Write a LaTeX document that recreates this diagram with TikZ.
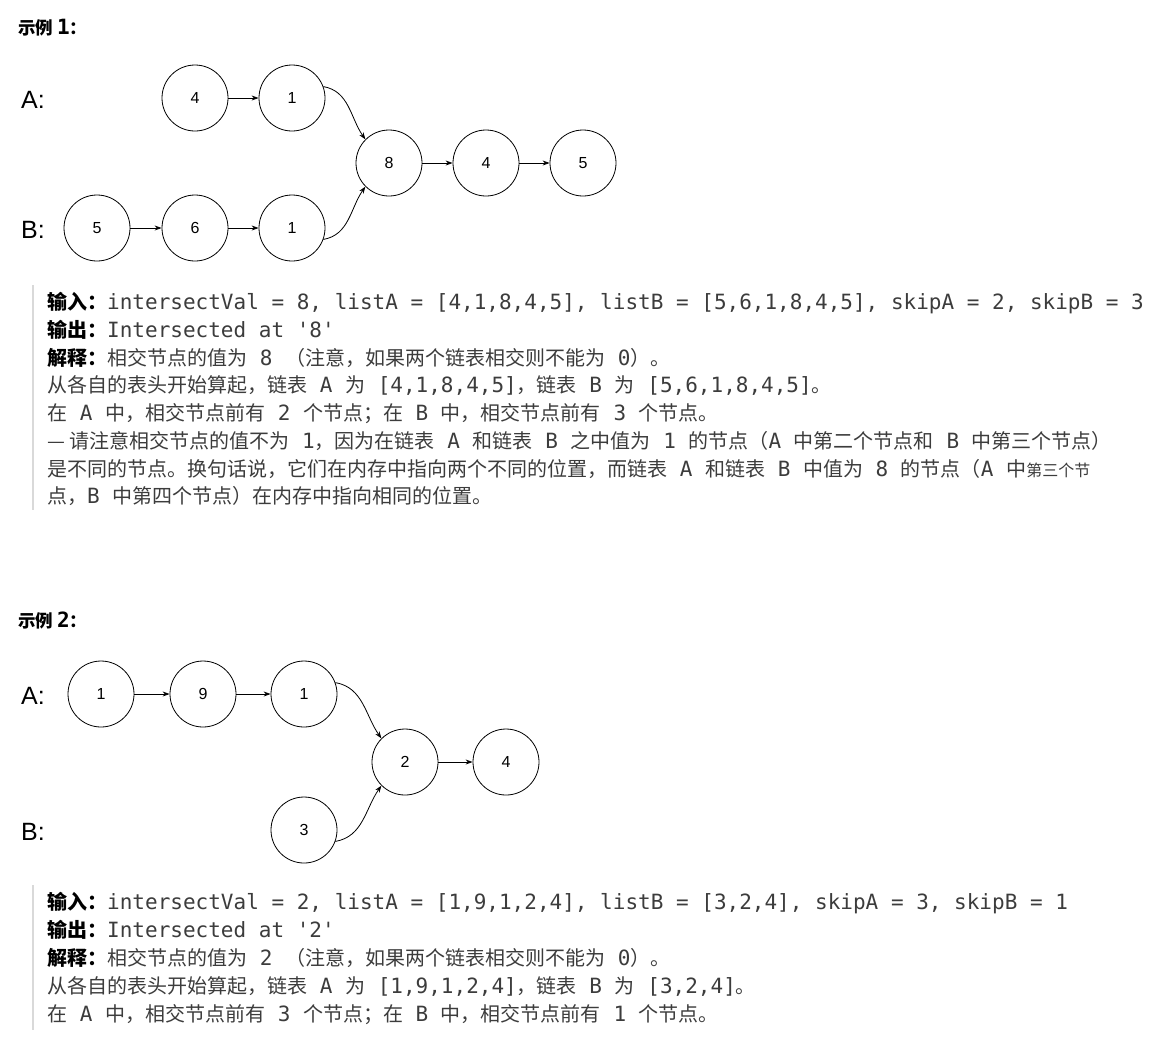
\documentclass[tikz,border=0pt]{standalone}
\usepackage{fontspec}
\setmainfont{Noto Sans CJK SC}
\setmonofont{DejaVu Sans Mono}
\newfontfamily\lsans{Liberation Sans}
\usetikzlibrary{arrows.meta}
\definecolor{txt}{HTML}{3C3C3C}
\newcommand{\mm}[1]{{\ttfamily\fontsize{21}{24}\selectfont #1}}
\newcommand{\bb}[1]{{\bfseries\color{black}#1}}
\tikzset{
 nd/.style={circle,draw,line width=0.8pt,minimum size=66pt,inner sep=0pt,font=\lsans\fontsize{16}{18}\selectfont},
 ar/.style={-{Stealth[length=7pt,width=5pt]},line width=0.8pt},
 lab/.style={font=\lsans\fontsize{25}{28}\selectfont},
 tl/.style={anchor=base west,inner sep=0pt,text=txt,font=\fontsize{20}{22}\selectfont},
 hd/.style={anchor=base west,inner sep=0pt,font=\bfseries\fontsize{17.5}{20}\selectfont},
 bar/.style={draw=black!15,line width=2pt}
}
\begin{document}
\begin{tikzpicture}[x=1pt,y=-1pt]
\useasboundingbox (0,0) rectangle (1156,1050);
\node[hd] (h1) at (18,34) {示例 \mm{\bfseries 1}：};
\node[lab] (la) at (33,100) {A:};
\node[lab] (lb) at (33,230) {B:};
\node[nd] (a1) at (195,98) {4};
\node[nd] (a2) at (292,98) {1};
\node[nd] (c1) at (389,163) {8};
\node[nd] (c2) at (486,163) {4};
\node[nd] (c3) at (583,163) {5};
\node[nd] (b1) at (97,228) {5};
\node[nd] (b2) at (195,228) {6};
\node[nd] (b3) at (292,228) {1};
\draw[ar] (a1) -- (a2);
\draw[ar] (b1) -- (b2);
\draw[ar] (b2) -- (b3);
\draw[ar] (c1) -- (c2);
\draw[ar] (c2) -- (c3);
\draw[ar] (a2.20) to[out=-10,in=125] (c1.north west);
\draw[ar] (b3.-20) to[out=10,in=-125] (c1.south west);
\draw[bar] (33,285) -- (33,510);
\node[tl] (t1) at (47,309) {\bb{输入：}\mm{intersectVal = 8, listA = [4,1,8,4,5], listB = [5,6,1,8,4,5], skipA = 2, skipB = 3}};
\node[tl] (t2) at (47,337) {\bb{输出：}\mm{Intersected at '8'}};
\node[tl] (t3) at (47,365) {\bb{解释：}相交节点的值为\mm{ 8 }（注意，如果两个链表相交则不能为\mm{ 0}）。};
\node[tl] (t4) at (47,392) {从各自的表头开始算起，链表\mm{ A }为\mm{ [4,1,8,4,5]}，链表\mm{ B }为\mm{ [5,6,1,8,4,5]}。};
\node[tl] (t5) at (47,420) {在\mm{ A }中，相交节点前有\mm{ 2 }个节点；在\mm{ B }中，相交节点前有\mm{ 3 }个节点。};
\node[tl] (t6) at (47,448) {— 请注意相交节点的值不为\mm{ 1}，因为在链表\mm{ A }和链表\mm{ B }之中值为\mm{ 1 }的节点（\mm{A }中第二个节点和\mm{ B }中第三个节点）};
\node[tl] (t7) at (47,476) {是不同的节点。换句话说，它们在内存中指向两个不同的位置，而链表\mm{ A }和链表\mm{ B }中值为\mm{ 8 }的节点（\mm{A }中{\fontsize{16}{18}\selectfont 第三个节}};
\node[tl] (t8) at (47,503) {点，\mm{B }中第四个节点）在内存中指向相同的位置。};
\node[hd] (h2) at (18,627) {示例 \mm{\bfseries 2}：};
\node[lab] (la2) at (33,696) {A:};
\node[lab] (lb2) at (33,832) {B:};
\node[nd] (p1) at (101,694) {1};
\node[nd] (p2) at (203,694) {9};
\node[nd] (p3) at (304,694) {1};
\node[nd] (q1) at (405,762) {2};
\node[nd] (q2) at (506,762) {4};
\node[nd] (r1) at (304,830) {3};
\draw[ar] (p1) -- (p2);
\draw[ar] (p2) -- (p3);
\draw[ar] (q1) -- (q2);
\draw[ar] (p3.20) to[out=-10,in=125] (q1.north west);
\draw[ar] (r1.-20) to[out=10,in=-125] (q1.south west);
\draw[bar] (33,885) -- (33,1030);
\node[tl] (u1) at (47,909) {\bb{输入：}\mm{intersectVal = 2, listA = [1,9,1,2,4], listB = [3,2,4], skipA = 3, skipB = 1}};
\node[tl] (u2) at (47,937) {\bb{输出：}\mm{Intersected at '2'}};
\node[tl] (u3) at (47,965) {\bb{解释：}相交节点的值为\mm{ 2 }（注意，如果两个链表相交则不能为\mm{ 0}）。};
\node[tl] (u4) at (47,993) {从各自的表头开始算起，链表\mm{ A }为\mm{ [1,9,1,2,4]}，链表\mm{ B }为\mm{ [3,2,4]}。};
\node[tl] (u5) at (47,1021) {在\mm{ A }中，相交节点前有\mm{ 3 }个节点；在\mm{ B }中，相交节点前有\mm{ 1 }个节点。};
\end{tikzpicture}
\end{document}
